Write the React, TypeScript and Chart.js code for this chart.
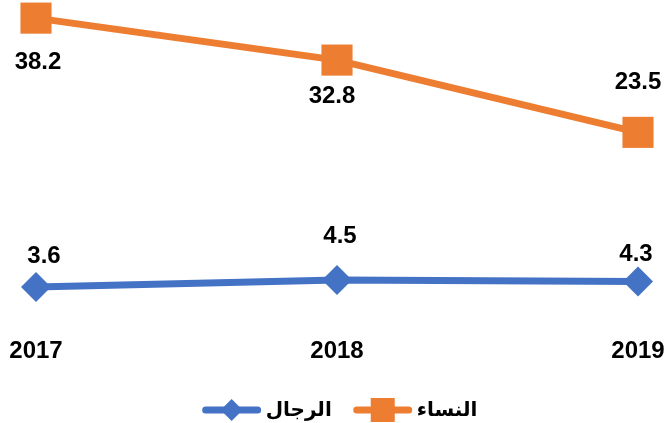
import React, { useEffect, useRef } from "react";
import { Chart, registerables } from "chart.js";

Chart.register(...registerables);

const years = ["2017", "2018", "2019"];
const menValues = [3.6, 4.5, 4.3];
const womenValues = [38.2, 32.8, 23.5];
const seriesNames = ["الرجال", "النساء"];

const FONT = "'Liberation Sans', Arial, 'DejaVu Sans', sans-serif";
const BLUE = "#4472C4";
const ORANGE = "#ED7D31";

const valueLabelPlugin = {
  id: "valueLabels",
  afterDatasetsDraw(chart: any) {
    const ctx = chart.ctx;
    chart.data.datasets.forEach((ds: any, i: number) => {
      const meta = chart.getDatasetMeta(i);
      meta.data.forEach((pt: any, j: number) => {
        const off = ds.labelOffsets[j];
        ctx.save();
        ctx.font = `bold 24px ${FONT}`;
        ctx.fillStyle = "#000";
        ctx.textAlign = "center";
        ctx.textBaseline = "middle";
        ctx.fillText(Number(ds.data[j]).toFixed(1), pt.x + off[0], pt.y + off[1]);
        ctx.restore();
      });
    });
  },
};

const legendPlugin = {
  id: "lineLegend",
  afterDraw(chart: any) {
    const ctx = chart.ctx;
    const area = chart.chartArea;
    const y = 410;
    const lineLen = 58;
    const textGap = 5;
    const itemGap = 22;
    ctx.save();
    ctx.font = `bold 20px ${FONT}`;
    const items = chart.data.datasets.map((ds: any) => ({
      ds,
      w: ctx.measureText(ds.label).width,
    }));
    const total =
      items.reduce((s: number, it: any) => s + lineLen + textGap + it.w, 0) +
      itemGap * (items.length - 1);
    let x = (area.left + area.right) / 2 + 3 - total / 2;
    items.forEach((it: any) => {
      const ds = it.ds;
      ctx.strokeStyle = ds.borderColor;
      ctx.lineWidth = 7;
      ctx.lineCap = "round";
      ctx.beginPath();
      ctx.moveTo(x + 3, y);
      ctx.lineTo(x + lineLen - 3, y);
      ctx.stroke();
      const cx = x + lineLen / 2;
      ctx.fillStyle = ds.backgroundColor;
      ctx.beginPath();
      if (ds.pointStyle === "rectRot") {
        const r = 11;
        ctx.moveTo(cx, y - r);
        ctx.lineTo(cx + r, y);
        ctx.lineTo(cx, y + r);
        ctx.lineTo(cx - r, y);
        ctx.closePath();
      } else {
        const h = 12;
        ctx.rect(cx - h, y - h, 2 * h, 2 * h);
      }
      ctx.fill();
      ctx.fillStyle = "#000";
      ctx.textAlign = "left";
      ctx.textBaseline = "middle";
      ctx.fillText(ds.label, x + lineLen + textGap, y);
      x += lineLen + textGap + it.w + itemGap;
    });
    ctx.restore();
  },
};

export default function App() {
  const ref = useRef<HTMLCanvasElement>(null);

  useEffect(() => {
    if (!ref.current) return;
    const chart = new Chart(ref.current, {
      type: "line",
      data: {
        labels: years,
        datasets: [
          {
            label: seriesNames[0],
            data: menValues,
            borderColor: BLUE,
            backgroundColor: BLUE,
            borderWidth: 7,
            pointStyle: "rectRot",
            pointRadius: 15,
            pointHoverRadius: 15,
            pointBorderWidth: 0,
            tension: 0,
            clip: false,
            labelOffsets: [
              [8, -31],
              [3, -44],
              [-2, -27],
            ],
          } as any,
          {
            label: seriesNames[1],
            data: womenValues,
            borderColor: ORANGE,
            backgroundColor: ORANGE,
            borderWidth: 7,
            pointStyle: "rect",
            pointRadius: 22,
            pointHoverRadius: 22,
            pointBorderWidth: 0,
            tension: 0,
            clip: false,
            labelOffsets: [
              [2, 44],
              [-5, 36],
              [0, -50],
            ],
          } as any,
        ],
      },
      options: {
        animation: false,
        responsive: false,
        events: [],
        layout: { padding: { left: 36, right: 31, top: 22, bottom: 57.2 } },
        plugins: {
          legend: { display: false },
          tooltip: { enabled: false },
        },
        scales: {
          x: {
            grid: { display: false, drawTicks: false },
            border: { display: false },
            ticks: {
              color: "#000",
              font: { family: FONT, size: 24, weight: "bold" },
              padding: 22,
              autoSkip: false,
              maxRotation: 0,
            },
            afterFit(scale: any) {
              scale.paddingLeft = 0;
              scale.paddingRight = 0;
              scale.height = 50.8;
            },
          },
          y: {
            display: false,
            min: 0,
            max: 37.7,
          },
        },
      },
      plugins: [valueLabelPlugin, legendPlugin],
    });
    return () => chart.destroy();
  }, []);

  return (
    <div style={{ position: "absolute", left: 0, top: 0, width: 669, height: 423, background: "#fff" }}>
      <canvas ref={ref} width={669} height={423} style={{ display: "block" }} />
    </div>
  );
}
